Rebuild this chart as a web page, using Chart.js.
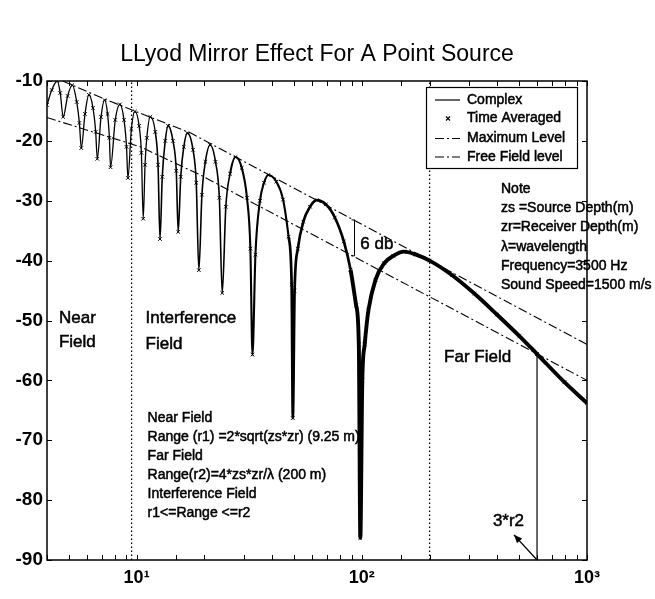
<!DOCTYPE html>
<html>
<head>
<meta charset="utf-8">
<title>LLyod Mirror Effect For A Point Source</title>
<script src="https://cdn.jsdelivr.net/npm/chart.js@4.4.1/dist/chart.umd.min.js"></script>
<style>
  html, body { margin: 0; padding: 0; background: #fff; }
</style>
</head>
<body>
<canvas id="mirrorChart" width="655" height="599"></canvas>
<script>
// range (m) and level (dB)
const range = [4.0, 4.2, 4.44, 4.58, 4.72, 4.94, 5.18, 5.42, 5.57, 5.68, 5.90, 6.14, 6.40, 6.58, 6.69,
  6.95, 7.21, 7.43, 7.57, 7.66, 8.04, 8.43, 8.79, 9.02, 9.15, 9.48, 9.83, 10.26, 10.5, 10.7,
  10.9, 11.1, 11.5, 12.1, 12.45, 12.7, 13.0, 13.4, 13.8, 14.5, 15.0, 15.3, 15.7, 16.2, 16.8,
  17.8, 18.4, 18.9, 19.5, 20.2, 21.2, 22.4, 23.3, 24.0, 24.9, 26.0, 27.5, 29.3, 30.9, 32.0,
  32.7, 33.7, 35.3, 36.8, 38.4, 41.7, 44.7, 47.3, 48.8, 49.4, 50.3, 52.0, 55.0, 58.9, 63.1,
  69.2, 75.9, 83.2, 89.1, 94.4, 97.0, 98.5, 100.5, 103, 107, 115, 126, 138, 154, 174,
  200, 251, 316, 398, 501, 600, 794, 1000];
const complexLevel = [-14.0, -11.5, -10.0, -12.0, -16.0, -12.5, -10.7, -13.5, -17.0, -21.2, -15.5, -12.3, -14.5, -18.5, -23.0,
  -16.0, -13.2, -15.5, -19.5, -24.4, -16.5, -13.9, -16.5, -21.0, -26.2, -18.0, -15.1, -17.5, -22.0, -33.0,
  -24.0, -19.5, -16.0, -18.5, -24.0, -36.4, -26.0, -20.0, -17.5, -20.0, -25.0, -35.2, -26.0, -21.0, -18.7,
  -21.5, -27.0, -41.6, -29.0, -23.5, -20.7, -23.5, -29.5, -45.4, -31.0, -25.5, -22.7, -24.5, -29.5, -38.0,
  -55.7, -39.0, -30.0, -27.0, -25.7, -26.8, -29.8, -36.0, -44.0, -66.3, -45.0, -38.0, -33.5, -31.0, -29.9,
  -30.6, -32.8, -36.8, -41.5, -47.5, -54.0, -86.3, -60.0, -54.0, -48.3, -43.2, -40.4, -39.2, -38.5, -39.0,
  -40.0, -42.4, -45.5, -49.0, -52.6, -55.6, -60.3, -63.8];
const timeAvgLevel = complexLevel; // the x markers sit right on the complex curve

const maxRange = [4, 5.26, 7.41, 10.4, 17.4, 1000];
const maxLevel = [-8.9, -10.8, -13.2, -15.4, -18.7, -54.0];
const freeRange = [4, 10.4, 19.2, 1000];
const freeLevel = [-16.1, -21.0, -25.7, -60.0];

const fieldBounds = [9.5, 200];          // r1, r2 (dotted lines)
const farMarkRange = 600;                // 3*r2
const farMarkLevel = -55.6;

const xTickValues = [10, 100, 1000];
const xTickLabels = ["10\u00B9", "10\u00B2", "10\u00B3"];
const yMin = -90, yMax = -10, yStep = 10;

const titleText = "LLyod Mirror Effect For A Point Source";
const noteLines = ["Note", "zs =Source Depth(m)", "zr=Receiver Depth(m)", "\u03BB=wavelength",
  "Frequency=3500 Hz", "Sound Speed=1500 m/s"];
const rangeNotes = ["Near Field", "Range (r1) =2*sqrt(zs*zr) (9.25 m)", "Far Field",
  "Range(r2)=4*zs*zr/\u03BB (200 m)", "Interference Field", "r1<=Range <=r2"];

const FONT = "'Liberation Sans', Arial, sans-serif";
Chart.defaults.font.family = FONT;
Chart.defaults.color = "#000";

const toXY = (xs, ys) => xs.map((v, i) => ({ x: v, y: ys[i] }));
const dashDot = [9, 3, 2, 3];

// thicker curve where the markers pile up in the original
const curveWidth = (ctx) => {
  const r = ctx.p0.parsed.x;
  if (r < 12) return 1.3;
  if (r < 25) return 1.6;
  if (r < 45) return 2.1;
  if (r < 85) return 2.7;
  return 3.9;
};

const decor = {
  id: "mirrorDecor",
  afterDraw(chart) {
    const { ctx, chartArea: a, scales: { x, y } } = chart;
    const px = (r) => x.getPixelForValue(r);
    const py = (d) => y.getPixelForValue(d);
    ctx.save();

    // axes box + inward ticks
    ctx.strokeStyle = "#000";
    ctx.lineWidth = 1.5;
    ctx.strokeRect(a.left, a.top, a.right - a.left, a.bottom - a.top);
    ctx.lineWidth = 1;
    ctx.beginPath();
    x.ticks.forEach((t) => {
      const p = Math.round(px(t.value)) + 0.5;
      ctx.moveTo(p, a.bottom); ctx.lineTo(p, a.bottom - 5);
      ctx.moveTo(p, a.top); ctx.lineTo(p, a.top + 5);
    });
    y.ticks.forEach((t) => {
      const p = Math.round(py(t.value)) + 0.5;
      ctx.moveTo(a.left, p); ctx.lineTo(a.left + 5, p);
      ctx.moveTo(a.right, p); ctx.lineTo(a.right - 5, p);
    });
    ctx.stroke();

    // heavy-ish text, the scan looks inked
    const ink = (s, tx, ty) => {
      ctx.lineWidth = 0.5;
      ctx.strokeText(s, tx, ty);
      ctx.fillText(s, tx, ty);
    };

    // title
    ctx.fillStyle = "#000";
    ctx.textBaseline = "middle";
    ctx.textAlign = "center";
    ctx.font = "23px " + FONT;
    ctx.fillText(titleText, (a.left + a.right) / 2, 55);

    const text = (s, r, d, size, align) => {
      ctx.font = size + "px " + FONT;
      ctx.textAlign = align || "left";
      ink(s, px(r), py(d));
    };

    // region labels
    text("Near", 4.52, -49.7, 17);
    text("Field", 4.52, -53.6, 17);
    text("Interference", 10.96, -49.7, 17);
    text("Field", 10.96, -54.0, 17);
    text("Far Field", 232, -56.1, 17);
    text("6 db", 98.5, -37.3, 17);
    text("3*r2", 448, -83.6, 17, "center");

    // 6 dB bracket
    const bx = Math.round(px(92.2)) + 0.5;
    ctx.lineWidth = 1;
    ctx.beginPath();
    ctx.moveTo(bx, py(-33.2)); ctx.lineTo(bx, py(-39.2));
    ctx.moveTo(bx - 3, py(-33.2)); ctx.lineTo(bx, py(-33.2));
    ctx.moveTo(bx - 3, py(-39.2)); ctx.lineTo(bx, py(-39.2));
    ctx.stroke();

    // arrow to 3*r2
    const tx = px(474), ty = py(-85.8), fx = px(farMarkRange), fy = py(yMin);
    ctx.lineWidth = 1.3;
    ctx.beginPath(); ctx.moveTo(fx, fy); ctx.lineTo(tx, ty); ctx.stroke();
    const ang = Math.atan2(ty - fy, tx - fx);
    ctx.beginPath();
    ctx.moveTo(tx, ty);
    ctx.lineTo(tx - 9 * Math.cos(ang - 0.4), ty - 9 * Math.sin(ang - 0.4));
    ctx.lineTo(tx - 9 * Math.cos(ang + 0.4), ty - 9 * Math.sin(ang + 0.4));
    ctx.closePath(); ctx.fill();

    // notes
    ctx.textAlign = "left";
    ctx.font = "14px " + FONT;
    noteLines.forEach((s, i) => ink(s, px(415), py(-28.0) + i * 19.3));
    rangeNotes.forEach((s, i) => ink(s, px(11.19), py(-66.3) + i * 19.0));

    // legend
    const lx = a.right - 161, ly = a.top + 6, lw = 151, lh = 81;
    ctx.fillStyle = "#fff";
    ctx.fillRect(lx, ly, lw, lh);
    ctx.lineWidth = 1.2;
    ctx.strokeRect(lx + 0.5, ly + 0.5, lw, lh);
    const rows = [13, 31.5, 51.5, 70];
    const sets = chart.data.datasets.filter((d) => d.inLegend);
    sets.forEach((d, i) => {
      const yy = ly + rows[i];
      ctx.strokeStyle = "#000";
      ctx.lineWidth = 1.2;
      if (d.showLine === false) {
        ctx.beginPath();
        ctx.moveTo(lx + 20, yy - 2); ctx.lineTo(lx + 24, yy + 2);
        ctx.moveTo(lx + 24, yy - 2); ctx.lineTo(lx + 20, yy + 2);
        ctx.stroke();
      } else {
        ctx.setLineDash(d.borderDash || []);
        ctx.beginPath(); ctx.moveTo(lx + 9, yy); ctx.lineTo(lx + 34, yy); ctx.stroke();
        ctx.setLineDash([]);
      }
      ctx.fillStyle = "#000";
      ctx.font = "14px " + FONT;
      ink(d.label, lx + 41, yy);
    });
    ctx.restore();
  }
};

new Chart(document.getElementById("mirrorChart"), {
  type: "scatter",
  data: {
    datasets: [
      {
        label: "Complex",
        inLegend: true,
        data: toXY(range, complexLevel),
        showLine: true,
        borderColor: "#000",
        borderWidth: 1.3,
        cubicInterpolationMode: "monotone",
        pointRadius: 0,
        segment: { borderWidth: curveWidth },
      },
      {
        label: "Time Averaged",
        inLegend: true,
        data: toXY(range, timeAvgLevel),
        showLine: false,
        pointStyle: "crossRot",
        pointRadius: 2.5,
        pointBorderWidth: 1,
        pointBorderColor: "#000",
      },
      {
        label: "Maximum Level",
        inLegend: true,
        data: toXY(maxRange, maxLevel),
        showLine: true,
        borderColor: "#000",
        borderWidth: 1.1,
        borderDash: dashDot,
        pointRadius: 0,
      },
      {
        label: "Free Field level",
        inLegend: true,
        data: toXY(freeRange, freeLevel),
        showLine: true,
        borderColor: "#000",
        borderWidth: 1.1,
        borderDash: dashDot,
        pointRadius: 0,
      },
      {
        label: "r1",
        data: [{ x: fieldBounds[0], y: yMin }, { x: fieldBounds[0], y: yMax }],
        showLine: true,
        borderColor: "#000",
        borderWidth: 1.3,
        borderDash: [1.5, 2.5],
        pointRadius: 0,
      },
      {
        label: "r2",
        data: [{ x: fieldBounds[1], y: yMin }, { x: fieldBounds[1], y: yMax }],
        showLine: true,
        borderColor: "#000",
        borderWidth: 1.3,
        borderDash: [1.5, 2.5],
        pointRadius: 0,
      },
      {
        label: "3*r2",
        data: [{ x: farMarkRange, y: yMin }, { x: farMarkRange, y: farMarkLevel }],
        showLine: true,
        borderColor: "#000",
        borderWidth: 1.2,
        pointRadius: 0,
      },
    ],
  },
  options: {
    responsive: false,
    animation: false,
    events: [],
    devicePixelRatio: 1,
    layout: { padding: { top: 81, right: 68, left: 0, bottom: 0 } },
    plugins: {
      legend: { display: false },
      title: { display: false },
      tooltip: { enabled: false },
    },
    scales: {
      x: {
        type: "logarithmic",
        min: 4,
        max: 1000,
        grid: { display: false, drawTicks: false },
        border: { display: false },
        afterFit: (s) => { s.height = 39; },
        ticks: {
          autoSkip: false,
          maxRotation: 0,
          padding: 7,
          font: { size: 18, weight: "bold" },
          color: "#000",
          callback: (v) => {
            const i = xTickValues.findIndex((t) => Math.abs(v - t) / t < 1e-6);
            return i >= 0 ? xTickLabels[i] : "";
          },
        },
      },
      y: {
        min: yMin,
        max: yMax,
        grid: { display: false, drawTicks: false },
        border: { display: false },
        afterFit: (s) => { s.width = 47; },
        ticks: { stepSize: yStep, padding: 4, font: { size: 19, weight: "bold" }, color: "#000" },
      },
    },
  },
  plugins: [decor],
});
</script>
</body>
</html>
